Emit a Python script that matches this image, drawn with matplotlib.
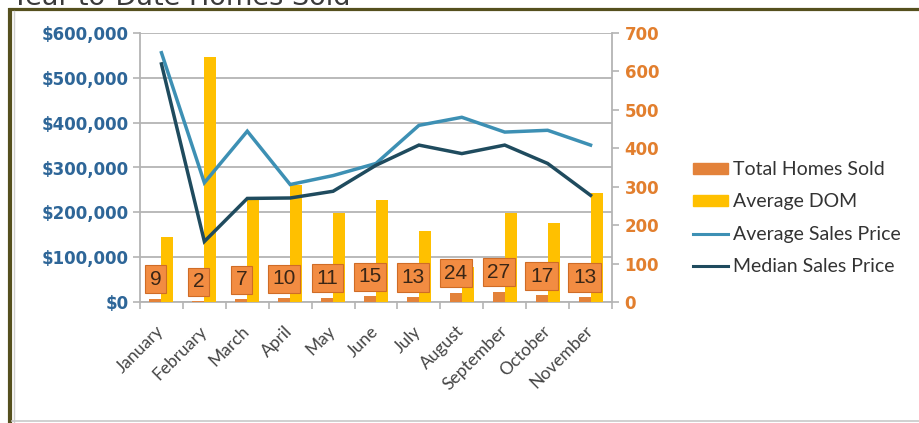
import numpy as np
import matplotlib
matplotlib.use("Agg")
import matplotlib.pyplot as plt
from matplotlib.lines import Line2D
from matplotlib.patches import Patch
from matplotlib.transforms import ScaledTranslation

# ---------------- data ----------------
months = ["January", "February", "March", "April", "May", "June", "July",
          "August", "September", "October", "November"]
total_homes_sold = [9, 2, 7, 10, 11, 15, 13, 24, 27, 17, 13]
average_dom = [168, 638, 270, 304, 231, 265, 185, 90, 231, 206, 284]
average_sales_price = [556000, 266000, 381000, 262000, 282000, 309000,
                       394000, 412000, 379000, 383000, 350000]
median_sales_price = [531000, 135000, 231000, 232000, 247000, 305000,
                      350000, 331000, 350000, 309000, 238000]
left_ticks = [0, 100000, 200000, 300000, 400000, 500000, 600000]
right_ticks = [0, 100, 200, 300, 400, 500, 600, 700]
title = "Year-to-Date Homes Sold"
legend_labels = ["Total Homes Sold", "Average DOM", "Average Sales Price",
                 "Median Sales Price"]

# ---------------- style ----------------
W, H = 919, 423
C_ORANGE = "#e3823a"
C_YELLOW = "#ffc000"
C_AVG = "#3d90b4"
C_MED = "#1f4b5e"
C_LEFT = "#2e6698"
C_RIGHT = "#e27f2e"
C_GRID = "#b4b4b4"
C_OLIVE = "#55501e"

def fx(px):
    return px / W

def fy(py):
    return 1 - py / H

fig = plt.figure(figsize=(W / 100, H / 100), dpi=100)
fig.patch.set_facecolor("white")

ax_l, ax_r, ax_t, ax_b = 140, 612, 33, 302
rect = [fx(ax_l), fy(ax_b), fx(ax_r) - fx(ax_l), fy(ax_t) - fy(ax_b)]

x = np.arange(len(months))

# back axes: left scale + gridlines
ax = fig.add_axes(rect, zorder=0)
ax.set_xlim(-0.5, len(months) - 0.5)
ax.set_ylim(left_ticks[0], left_ticks[-1])
ax.set_yticks(left_ticks)
ax.set_yticklabels(["${:,.0f}".format(v) for v in left_ticks],
                   color=C_LEFT, fontweight="bold", fontsize=12,
                   family="DejaVu Sans")
ax.yaxis.grid(True, color=C_GRID, lw=1.3)
ax.set_axisbelow(True)
ax.tick_params(axis="y", length=5, width=1.2, color=C_GRID, pad=3)
ax.set_xticks(np.arange(-0.5, len(months), 1.0))
ax.set_xticklabels([])
ax.set_xticks(x, minor=True)
ax.set_xticklabels(months, minor=True, rotation=45, ha="right", va="top",
                   rotation_mode="anchor", fontsize=12.5, color="#454545",
                   family="Lato")
ax.tick_params(axis="x", which="major", length=5, width=1.2, color=C_GRID)
ax.tick_params(axis="x", which="minor", length=0, pad=15)
shift = ScaledTranslation(-0.06, 0, fig.dpi_scale_trans)
for lab in ax.get_xticklabels(minor=True):
    lab.set_transform(lab.get_transform() + shift)
for s in ["top", "right"]:
    ax.spines[s].set_visible(False)
for s in ["left", "bottom"]:
    ax.spines[s].set_color(C_GRID)
    ax.spines[s].set_linewidth(1.3)

# right axes: bars
ax2 = ax.twinx()
ax2.set_zorder(1)
ax2.patch.set_visible(False)
ax2.set_ylim(right_ticks[0], right_ticks[-1])
ax2.set_yticks(right_ticks)
ax2.set_yticklabels([str(v) for v in right_ticks], color=C_RIGHT,
                    fontweight="bold", fontsize=12, family="DejaVu Sans")
ax2.tick_params(axis="y", length=5, width=1.2, color=C_GRID, pad=4)
for s in ["top", "left", "bottom"]:
    ax2.spines[s].set_visible(False)
ax2.spines["right"].set_color(C_GRID)
ax2.spines["right"].set_linewidth(1.3)

bw = 0.28
ax2.bar(x - 0.14, total_homes_sold, width=bw, color=C_ORANGE, zorder=2)
ax2.bar(x + 0.14, average_dom, width=bw, color=C_YELLOW, zorder=2)

for xi, v in zip(x, total_homes_sold):
    ax2.annotate(str(v), xy=(xi - 0.14, v), xytext=(0, 14),
                 textcoords="offset points", ha="center", va="center",
                 fontsize=15, color="#3a2616", family="Liberation Sans",
                 zorder=5,
                 bbox=dict(boxstyle="square,pad=0.22", fc="#f28c42",
                           ec="#cf6c26", lw=0.8))

# front axes: lines on left scale
ax3 = fig.add_axes(rect, zorder=2, sharex=ax, sharey=ax)
ax3.patch.set_visible(False)
ax3.axis("off")
ax3.plot(x, average_sales_price, color=C_AVG, lw=2.5, solid_joinstyle="miter")
ax3.plot(x, median_sales_price, color=C_MED, lw=2.5, solid_joinstyle="miter")

# legend
handles = [Patch(color=C_ORANGE), Patch(color=C_YELLOW),
           Line2D([], [], color=C_AVG, lw=2.2),
           Line2D([], [], color=C_MED, lw=2.2)]
fig.legend(handles, legend_labels, loc="center left",
           bbox_to_anchor=(fx(693), fy(218)), frameon=False,
           prop={"family": "Lato", "size": 14}, handlelength=1.8,
           handleheight=0.45, handletextpad=0.25, labelspacing=0.78,
           borderpad=0, borderaxespad=0, labelcolor="#333333")

# frame
fig.add_artist(Line2D([fx(10), fx(10)], [fy(8), fy(H)], transform=fig.transFigure,
                      color=C_OLIVE, lw=3.0, solid_capstyle="butt"))
fig.add_artist(Line2D([fx(8), fx(W)], [fy(9), fy(9)], transform=fig.transFigure,
                      color=C_OLIVE, lw=2.3, solid_capstyle="butt"))
fig.add_artist(Line2D([fx(13.5), fx(13.5)], [fy(11), fy(H)], transform=fig.transFigure,
                      color="#cfcfcf", lw=1.0))
fig.add_artist(Line2D([fx(12), fx(W)], [fy(421), fy(421)], transform=fig.transFigure,
                      color="#c8c8c8", lw=1.2))

# title, clipped at the top of the image as in the reference
t = fig.text(fx(12), fy(5), title, ha="left", va="baseline", fontsize=18,
             color="#3a3a3a", family="DejaVu Sans")
fig.canvas.draw()
bb = t.get_window_extent()
t.set_fontsize(18 * 338 / bb.width)

fig.savefig("out.png", dpi=100)
